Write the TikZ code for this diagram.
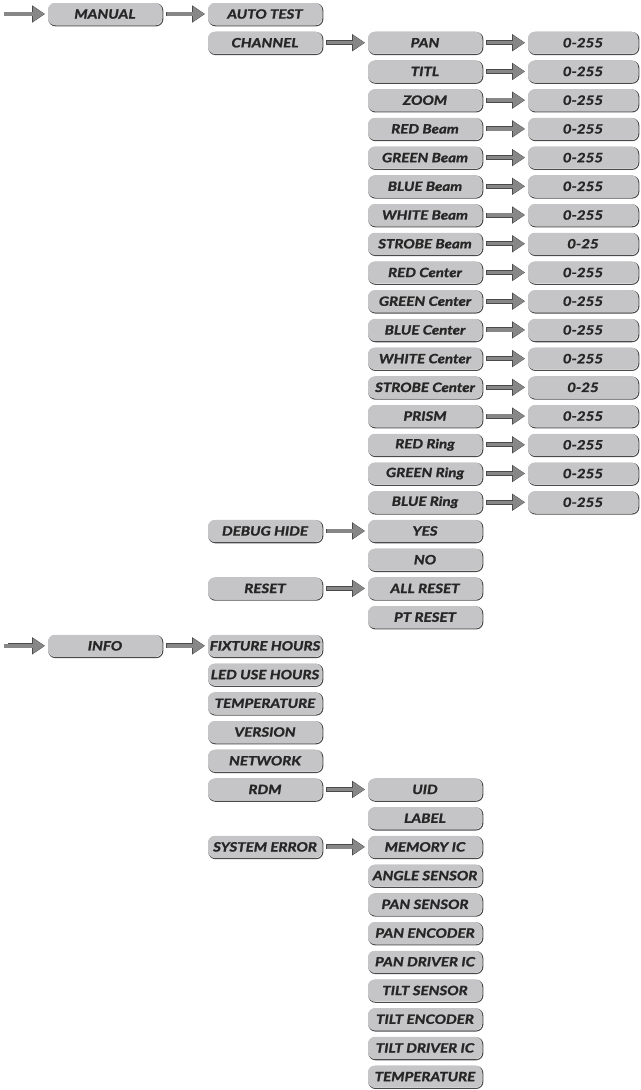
\documentclass[tikz,border=0pt]{standalone}
\usepackage{fontspec}
\setmainfont{Lato}
\newfontfamily\boxfont{Lato}[BoldItalicFeatures={FakeBold=1.4, FakeStretch=1.18}]
\usetikzlibrary{arrows.meta, positioning}
\definecolor{boxgray}{HTML}{C5C5C7}
\definecolor{arrowgray}{HTML}{878787}
\definecolor{rimgray}{HTML}{4A4A4A}
\definecolor{textgray}{HTML}{262626}
\tikzset{
  item/.style={
    rectangle,
    rounded corners=5pt,
    fill=boxgray,
    text=textgray,
    minimum width=85.5pt,
    minimum height=16.5pt,
    inner sep=0pt,
    outer sep=0pt,
    font=\boxfont\fontsize{9.6}{11}\selectfont\bfseries\itshape,
    preaction={draw=rimgray, line width=0.8pt,
      transform canvas={shift={(0.6pt,-0.6pt)}}}
  },
  valbox/.style={item, minimum width=82.5pt},
  arrow/.style={
    draw=arrowgray, line width=2.5pt,
    -{Triangle[length=8.6pt, width=10.4pt]},
    shorten <=3.6pt, shorten >=2.6pt,
    preaction={draw=rimgray, line width=3.7pt,
      -{Triangle[length=9.8pt, width=12.4pt]}, shorten >=2.2pt, shorten <=3.2pt}
  }
}
\begin{document}
\begin{tikzpicture}[node distance=5.04pt and 34.5pt]
  \useasboundingbox (0,0) rectangle (480pt,-817.5pt);

  % manual branch
  \node[item] (manual) at (78.75pt,-10.5pt) {MANUAL};
  \coordinate (manualin) at ([xshift=-33pt]manual.west);
  \node[item, right=of manual] (autotest) {AUTO TEST};
  \node[item, below=of autotest] (channel) {CHANNEL};

  % channel list
  \node[item, right=of channel] (pan) {PAN};
  \node[item, below=of pan] (titl) {TITL};
  \node[item, below=of titl] (zoom) {ZOOM};
  \node[item, below=of zoom] (redbeam) {RED Beam};
  \node[item, below=of redbeam] (greenbeam) {GREEN Beam};
  \node[item, below=of greenbeam] (bluebeam) {BLUE Beam};
  \node[item, below=of bluebeam] (whitebeam) {WHITE Beam};
  \node[item, below=of whitebeam] (strobebeam) {STROBE Beam};
  \node[item, below=of strobebeam] (redcenter) {RED Center};
  \node[item, below=of redcenter] (greencenter) {GREEN Center};
  \node[item, below=of greencenter] (bluecenter) {BLUE Center};
  \node[item, below=of bluecenter] (whitecenter) {WHITE Center};
  \node[item, below=of whitecenter] (strobecenter) {STROBE Center};
  \node[item, below=of strobecenter] (prism) {PRISM};
  \node[item, below=of prism] (redring) {RED Ring};
  \node[item, below=of redring] (greenring) {GREEN Ring};
  \node[item, below=of greenring] (bluering) {BLUE Ring};

  % channel values
  \node[valbox, right=of pan] (panval) {0-255};
  \node[valbox, right=of titl] (titlval) {0-255};
  \node[valbox, right=of zoom] (zoomval) {0-255};
  \node[valbox, right=of redbeam] (redbeamval) {0-255};
  \node[valbox, right=of greenbeam] (greenbeamval) {0-255};
  \node[valbox, right=of bluebeam] (bluebeamval) {0-255};
  \node[valbox, right=of whitebeam] (whitebeamval) {0-255};
  \node[valbox, right=of strobebeam] (strobebeamval) {0-25};
  \node[valbox, right=of redcenter] (redcenterval) {0-255};
  \node[valbox, right=of greencenter] (greencenterval) {0-255};
  \node[valbox, right=of bluecenter] (bluecenterval) {0-255};
  \node[valbox, right=of whitecenter] (whitecenterval) {0-255};
  \node[valbox, right=of strobecenter] (strobecenterval) {0-25};
  \node[valbox, right=of prism] (prismval) {0-255};
  \node[valbox, right=of redring] (redringval) {0-255};
  \node[valbox, right=of greenring] (greenringval) {0-255};
  \node[valbox, right=of bluering] (blueringval) {0-255};

  % debug and reset
  \node[item, below=of bluering] (yes) {YES};
  \node[item, below=of yes] (no) {NO};
  \node[item, left=of yes] (debug) {DEBUG HIDE};
  \node[item, below=of no] (allreset) {ALL RESET};
  \node[item, below=of allreset] (ptreset) {PT RESET};
  \node[item, left=of allreset] (reset) {RESET};

  % info branch
  \node[item, below=of reset, yshift=-21.54pt] (fixture) {FIXTURE HOURS};
  \node[item, left=of fixture] (info) {INFO};
  \coordinate (infoin) at ([xshift=-33pt]info.west);
  \node[item, below=of fixture] (ledhours) {LED USE HOURS};
  \node[item, below=of ledhours] (temp) {TEMPERATURE};
  \node[item, below=of temp] (version) {VERSION};
  \node[item, below=of version] (network) {NETWORK};
  \node[item, below=of network] (rdm) {RDM};
  \node[item, right=of rdm] (uid) {UID};
  \node[item, below=of uid] (label) {LABEL};
  \node[item, below=of label] (memory) {MEMORY IC};
  \node[item, left=of memory] (syserror) {SYSTEM ERROR};
  \node[item, below=of memory] (angle) {ANGLE SENSOR};
  \node[item, below=of angle] (pansensor) {PAN SENSOR};
  \node[item, below=of pansensor] (panencoder) {PAN ENCODER};
  \node[item, below=of panencoder] (pandriver) {PAN DRIVER IC};
  \node[item, below=of pandriver] (tiltsensor) {TILT SENSOR};
  \node[item, below=of tiltsensor] (tiltencoder) {TILT ENCODER};
  \node[item, below=of tiltencoder] (tiltdriver) {TILT DRIVER IC};
  \node[item, below=of tiltdriver] (errtemp) {TEMPERATURE};

  % arrows
  \draw[arrow, shorten <=0pt] (manualin) -- (manual);
  \draw[arrow] (manual) -- (autotest);
  \draw[arrow] (channel) -- (pan);
  \draw[arrow] (pan) -- (panval);
  \draw[arrow] (titl) -- (titlval);
  \draw[arrow] (zoom) -- (zoomval);
  \draw[arrow] (redbeam) -- (redbeamval);
  \draw[arrow] (greenbeam) -- (greenbeamval);
  \draw[arrow] (bluebeam) -- (bluebeamval);
  \draw[arrow] (whitebeam) -- (whitebeamval);
  \draw[arrow] (strobebeam) -- (strobebeamval);
  \draw[arrow] (redcenter) -- (redcenterval);
  \draw[arrow] (greencenter) -- (greencenterval);
  \draw[arrow] (bluecenter) -- (bluecenterval);
  \draw[arrow] (whitecenter) -- (whitecenterval);
  \draw[arrow] (strobecenter) -- (strobecenterval);
  \draw[arrow] (prism) -- (prismval);
  \draw[arrow] (redring) -- (redringval);
  \draw[arrow] (greenring) -- (greenringval);
  \draw[arrow] (bluering) -- (blueringval);
  \draw[arrow] (debug) -- (yes);
  \draw[arrow] (reset) -- (allreset);
  \draw[arrow, shorten <=0pt] (infoin) -- (info);
  \draw[arrow] (info) -- (fixture);
  \draw[arrow] (rdm) -- (uid);
  \draw[arrow] (syserror) -- (memory);
\end{tikzpicture}
\end{document}
